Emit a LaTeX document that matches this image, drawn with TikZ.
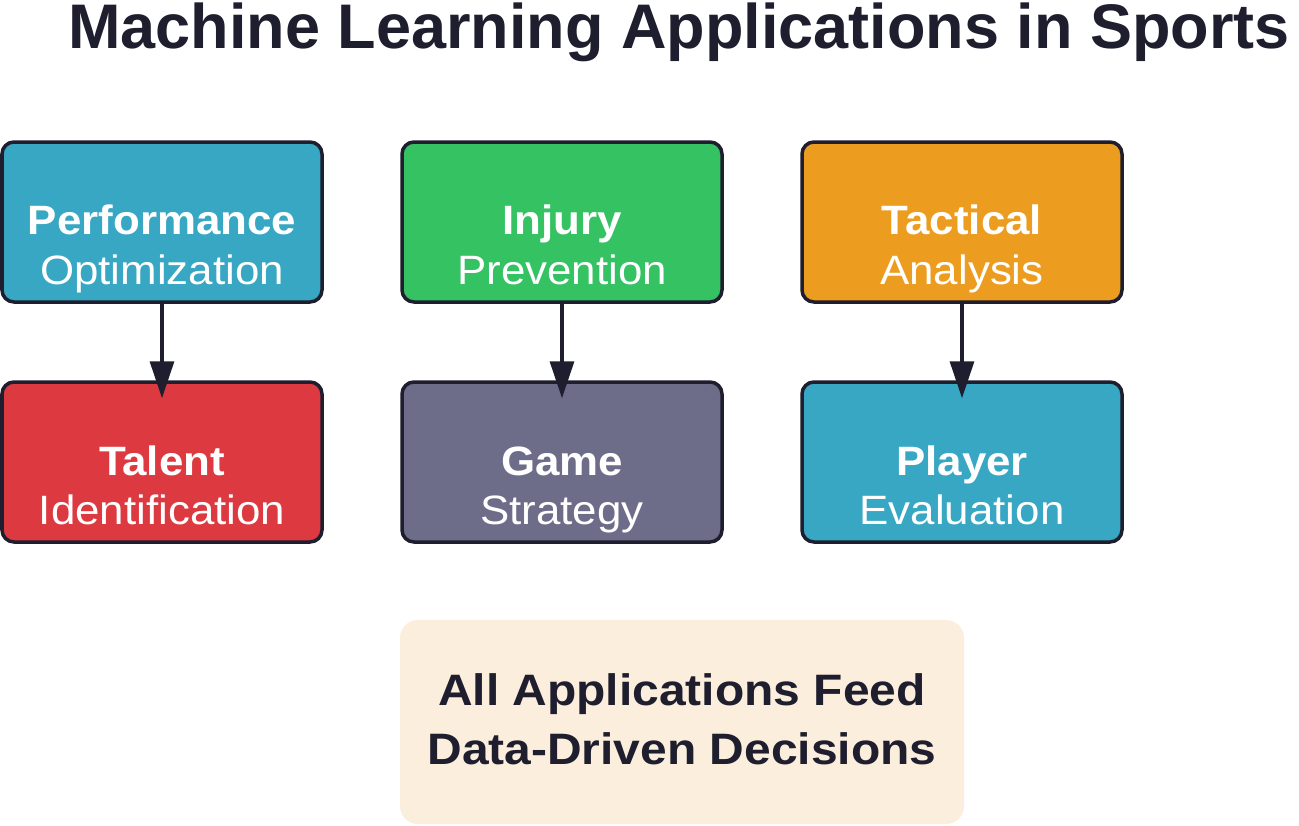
\documentclass[tikz,border=0pt]{standalone}
\usepackage{fontspec}
\setmainfont{Liberation Sans}
\newfontfamily\boxfont[FakeStretch=1.07]{Liberation Sans}
\newfontfamily\notefont[FakeStretch=1.09]{Liberation Sans}
\usetikzlibrary{arrows.meta}
\definecolor{ink}{HTML}{1E1E2E}
\definecolor{cteal}{HTML}{38A7C3}
\definecolor{cgreen}{HTML}{35C263}
\definecolor{corange}{HTML}{EC9C1E}
\definecolor{cred}{HTML}{DC3A40}
\definecolor{cgray}{HTML}{6D6D89}
\definecolor{cbeige}{HTML}{FCEEDC}
\tikzset{
  appbox/.style={draw=ink, line width=3.5pt, rounded corners=12pt, minimum width=320pt, minimum height=160pt, inner sep=0pt},
  headtxt/.style={anchor=base, text=white, font=\boxfont\fontsize{41}{49}\selectfont\bfseries, inner sep=0pt},
  subtxt/.style={anchor=base, text=white, font=\boxfont\fontsize{41}{49}\selectfont, inner sep=0pt},
  conn/.style={draw=ink, line width=3.2pt, -{Triangle[length=37pt,width=24pt]}, shorten >=-18pt},
  notetxt/.style={anchor=base, text=ink, font=\notefont\fontsize{44}{52}\selectfont\bfseries, inner sep=0pt},
}
\begin{document}
\begin{tikzpicture}[x=1pt,y=-1pt]
\useasboundingbox (0,0) rectangle (1299,825);
\fill[white] (0,0) rectangle (1299,825);
\node[anchor=base, text=ink, font=\fontsize{63}{70}\selectfont\bfseries, inner sep=0pt] (title) at (679,48) {Machine Learning Applications in Sports};

\node[appbox, fill=cteal] (b1) at (162,222) {};
\node[appbox, fill=cgreen] (b2) at (562,222) {};
\node[appbox, fill=corange] (b3) at (962,222) {};
\node[appbox, fill=cred] (b4) at (162,462) {};
\node[appbox, fill=cgray] (b5) at (562,462) {};
\node[appbox, fill=cteal] (b6) at (962,462) {};

\node[headtxt] (b1h) at (162,234) {Performance};
\node[subtxt] (b1s) at (162,284) {Optimization};
\node[headtxt] (b2h) at (562,234) {Injury};
\node[subtxt] (b2s) at (562,284) {Prevention};
\node[headtxt] (b3h) at (962,234) {Tactical};
\node[subtxt] (b3s) at (962,284) {Analysis};
\node[headtxt] (b4h) at (162,475) {Talent};
\node[subtxt] (b4s) at (162,524) {Identification};
\node[headtxt] (b5h) at (562,475) {Game};
\node[subtxt] (b5s) at (562,524) {Strategy};
\node[headtxt] (b6h) at (962,475) {Player};
\node[subtxt] (b6s) at (962,524) {Evaluation};

\draw[conn] (b1) -- (b4);
\draw[conn] (b2) -- (b5);
\draw[conn] (b3) -- (b6);

\node[fill=cbeige, rounded corners=18pt, minimum width=564pt, minimum height=204pt, inner sep=0pt] (note) at (682,722) {};
\node[notetxt] (n1) at (682,705) {All Applications Feed};
\node[notetxt] (n2) at (682,764) {Data-Driven Decisions};
\end{tikzpicture}
\end{document}
